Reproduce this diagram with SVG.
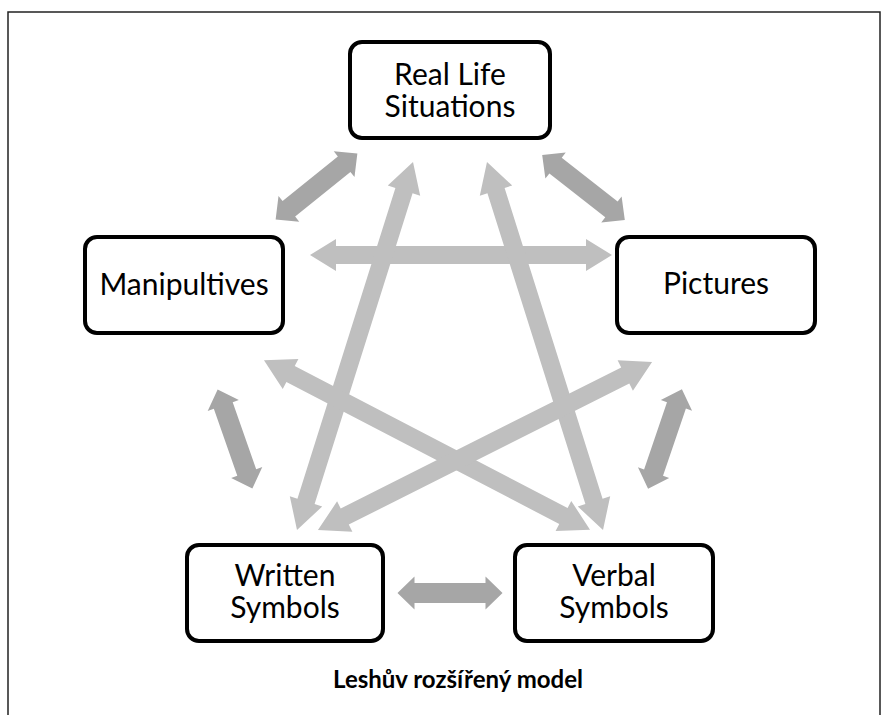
<svg xmlns="http://www.w3.org/2000/svg" xmlns:xlink="http://www.w3.org/1999/xlink" width="888" height="715" viewBox="0 0 888 715">
<style>
.box{fill:#fff;stroke:#000;stroke-width:4}
.lbl{font-family:Lato,"Open Sans","Liberation Sans",sans-serif;font-size:30px;fill:#000;text-anchor:middle}
.dark{fill:#a6a6a6}
.light{fill:#bfbfbf}
.cap{font-family:Lato,"Open Sans","Liberation Sans",sans-serif;font-size:24px;font-weight:bold;fill:#000;text-anchor:middle}
</style>
<defs>
<polygon id="darr" points="-52.5,0 -35.5,-16.5 -35.5,-10 35.5,-10 35.5,-16.5 52.5,0 35.5,16.5 35.5,10 -35.5,10 -35.5,16.5"/>
</defs>
<rect x="8" y="12" width="872" height="720" fill="#fff" stroke="#222" stroke-width="1.5"/>
<g id="connectors">
<polygon class="light" transform="translate(461,255)" points="-151,0 -125,-16 -125,-9 125,-9 125,-16 151,0 125,16 125,9 -125,9 -125,16"/>
<polygon class="light" transform="translate(355,346) rotate(-72.5)" points="-192.9,0 -162.9,-17 -162.9,-9 162.9,-9 162.9,-17 192.9,0 162.9,17 162.9,9 -162.9,9 -162.9,17"/>
<polygon class="light" transform="translate(545,346) rotate(72.5)" points="-192.9,0 -162.9,-17 -162.9,-9 162.9,-9 162.9,-17 192.9,0 162.9,17 162.9,9 -162.9,9 -162.9,17"/>
<polygon class="light" transform="translate(427,445) rotate(27.5)" points="-183.8,0 -153.8,-17 -153.8,-9 153.8,-9 153.8,-17 183.8,0 153.8,17 153.8,9 -153.8,9 -153.8,17"/>
<polygon class="light" transform="translate(485,446) rotate(-26.7)" points="-187,0 -157,-17 -157,-9 157,-9 157,-17 187,0 157,17 157,9 -157,9 -157,17"/>
<use xlink:href="#darr" class="dark" transform="translate(316.5,186.5) rotate(-38.9)"/>
<use xlink:href="#darr" class="dark" transform="translate(583.5,187.5) rotate(38.1)"/>
<use xlink:href="#darr" class="dark" transform="translate(235,439) rotate(70.7)"/>
<use xlink:href="#darr" class="dark" transform="translate(665,439) rotate(108.8)"/>
<use xlink:href="#darr" class="dark" transform="translate(450,593)"/>
</g>
<g id="real-life">
<rect class="box" x="350" y="42" width="200" height="96" rx="12"/>
<text class="lbl" x="450" y="85">Real Life</text>
<text class="lbl" x="450" y="117">Situations</text>
</g>
<g id="manipultives">
<rect class="box" x="85" y="237" width="198" height="96" rx="12"/>
<text class="lbl" x="184" y="295">Manipultives</text>
</g>
<g id="pictures">
<rect class="box" x="617" y="237" width="198" height="96" rx="12"/>
<text class="lbl" x="716" y="294">Pictures</text>
</g>
<g id="written">
<rect class="box" x="187" y="545" width="196" height="96" rx="12"/>
<text class="lbl" x="285" y="586">Written</text>
<text class="lbl" x="285" y="618">Symbols</text>
</g>
<g id="verbal">
<rect class="box" x="515" y="545" width="198" height="96" rx="12"/>
<text class="lbl" x="614" y="586">Verbal</text>
<text class="lbl" x="614" y="618">Symbols</text>
</g>
<text class="cap" x="458" y="688">Leshův rozšířený model</text>
</svg>
